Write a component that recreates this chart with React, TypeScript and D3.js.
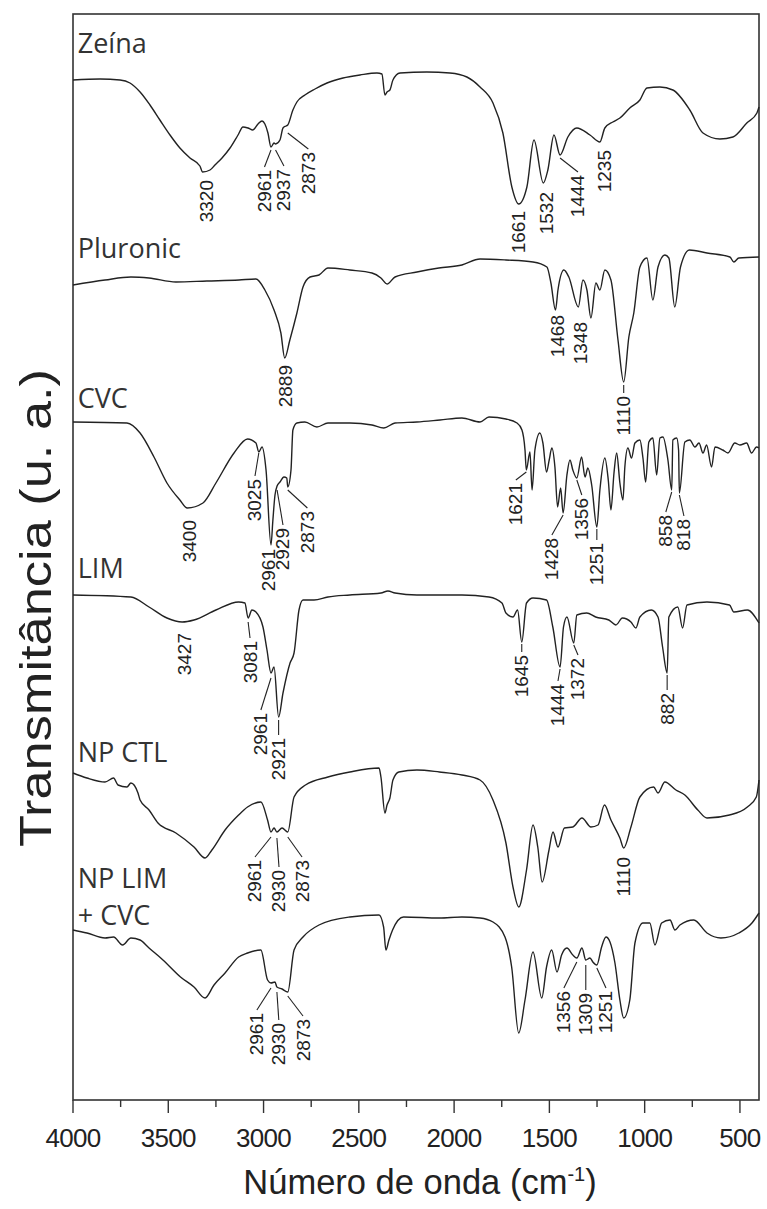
import React from "react";
import * as d3 from "d3";

// FTIR spectra (transmittance, arbitrary units, stacked) vs wavenumber
type Pt = [number, number];
type Band = { band: number; y1?: number; x2: number; y2: number };

const W = 767;
const H = 1209;
const plot = { left: 73, right: 759, top: 14, bottom: 1100 };

const majorTicks = [4000, 3500, 3000, 2500, 2000, 1500, 1000, 500];
const minorTicks = [3750, 3250, 2750, 2250, 1750, 1250, 750];
const wavenumberDomain: [number, number] = [4000, 400];
const transmittanceDomain: [number, number] = [0, 108.6];

const seriesNames = ["Zeína", "Pluronic", "CVC", "LIM", "NP CTL", "NP LIM|+ CVC"];
const seriesLabelLevels = [104.7, 84.2, 69.2, 52.2, 33.8, 21.2];

const zeina: Pt[] = [
  [4000, 102.0], [3858, 102.1], [3753, 102.0], [3701, 101.7], [3648, 100.8], [3596, 99.5],
  [3544, 98.0], [3491, 96.5], [3439, 95.2], [3386, 94.2], [3334, 93.4], [3320, 92.8],
  [3281, 93.0], [3255, 93.5], [3218, 94.2], [3176, 95.2], [3134, 96.5], [3108, 97.3],
  [3082, 97.2], [3056, 97.0], [3029, 97.6], [3008, 97.9], [2993, 97.6], [2977, 96.7],
  [2961, 95.3], [2945, 95.7], [2937, 95.6], [2914, 96.0], [2898, 97.2], [2882, 97.4],
  [2873, 97.5], [2846, 99.0], [2825, 99.8], [2783, 100.5], [2730, 101.1], [2667, 101.7],
  [2583, 102.2], [2494, 102.5], [2405, 102.7], [2379, 102.6], [2363, 100.5], [2352, 100.8],
  [2337, 101.0], [2321, 102.0], [2284, 102.7], [2143, 102.8], [2022, 102.7], [1933, 102.3],
  [1864, 101.3], [1796, 99.7], [1744, 96.7], [1697, 91.3], [1661, 89.6], [1618, 91.3],
  [1581, 96.0], [1532, 91.7], [1508, 93.0], [1476, 96.5], [1444, 94.5], [1403, 96.3],
  [1356, 97.2], [1287, 96.5], [1235, 95.8], [1209, 97.2], [1167, 97.8], [1130, 98.2],
  [1078, 99.2], [1025, 100.0], [988, 101.2], [920, 101.3], [852, 101.0], [763, 99.0],
  [694, 96.7], [605, 96.1], [537, 96.3], [464, 97.7], [411, 98.7], [400, 99.3],
];

const pluronic: Pt[] = [
  [4000, 81.5], [3832, 82.0], [3696, 82.3], [3601, 82.2], [3460, 81.8], [3297, 81.9],
  [3129, 82.0], [3040, 82.1], [2993, 81.0], [2945, 79.0], [2909, 76.7], [2889, 74.2],
  [2862, 76.0], [2825, 78.7], [2793, 81.3], [2756, 82.3], [2709, 82.5], [2662, 83.2],
  [2547, 83.0], [2431, 82.7], [2384, 82.2], [2352, 81.6], [2310, 82.3], [2195, 82.8],
  [2080, 83.2], [1959, 83.5], [1864, 84.1], [1728, 84.0], [1586, 83.8], [1513, 83.3],
  [1492, 81.7], [1468, 79.0], [1455, 81.0], [1424, 83.0], [1398, 82.3], [1348, 79.3],
  [1324, 82.0], [1303, 81.0], [1282, 78.2], [1256, 81.7], [1235, 81.0], [1209, 83.0],
  [1177, 82.0], [1140, 76.0], [1110, 71.8], [1083, 76.3], [1057, 78.7], [1025, 83.3],
  [988, 84.2], [957, 80.0], [930, 83.3], [894, 84.5], [873, 84.2], [842, 79.3],
  [812, 83.3], [765, 85.0], [673, 84.7], [553, 84.3], [532, 83.8], [506, 84.2], [400, 84.3],
];

const cvc: Pt[] = [
  [4000, 67.8], [3717, 67.7], [3648, 66.7], [3575, 64.3], [3507, 61.7], [3439, 60.0],
  [3400, 59.2], [3318, 59.7], [3250, 61.7], [3155, 64.7], [3084, 66.1], [3040, 65.7],
  [3025, 64.8], [3008, 65.3], [2987, 63.0], [2961, 55.5], [2951, 58.0], [2940, 60.5],
  [2929, 61.4], [2914, 61.8], [2893, 62.3], [2878, 62.2], [2873, 61.3], [2856, 63.0],
  [2846, 67.0], [2825, 67.7], [2783, 67.8], [2720, 67.3], [2662, 67.7], [2547, 67.7],
  [2431, 67.5], [2369, 67.2], [2310, 67.7], [2195, 67.8], [2074, 68.0], [1959, 68.2],
  [1864, 67.8], [1817, 68.3], [1728, 68.1], [1670, 67.7], [1644, 67.0], [1628, 65.0],
  [1621, 63.0], [1602, 64.8], [1591, 61.0], [1576, 65.0], [1550, 66.7], [1534, 65.7],
  [1515, 62.8], [1501, 64.0], [1487, 65.2], [1471, 63.3], [1457, 59.3], [1441, 61.2],
  [1428, 58.7], [1408, 62.5], [1392, 64.0], [1377, 63.0], [1356, 62.2], [1331, 64.3],
  [1313, 62.3], [1298, 63.2], [1278, 61.5], [1251, 57.3], [1235, 61.0], [1209, 64.2],
  [1191, 62.0], [1177, 59.0], [1161, 62.7], [1147, 64.7], [1130, 61.7], [1114, 60.0],
  [1104, 63.3], [1088, 65.2], [1069, 64.2], [1051, 65.7], [1025, 66.0], [1009, 64.2],
  [995, 61.8], [978, 65.8], [957, 66.2], [937, 62.5], [920, 66.2], [904, 66.3],
  [878, 64.0], [858, 61.0], [852, 66.0], [832, 66.2], [822, 65.0], [818, 60.7],
  [789, 65.8], [763, 66.0], [736, 65.3], [715, 65.7], [694, 64.7], [675, 65.5],
  [649, 63.3], [631, 65.3], [590, 65.0], [563, 64.7], [527, 65.7], [500, 65.5],
  [465, 65.7], [439, 64.7], [413, 65.3], [400, 65.2],
];

const lim: Pt[] = [
  [4000, 50.5], [3696, 50.3], [3601, 49.3], [3507, 48.2], [3427, 47.8], [3365, 48.0],
  [3250, 49.0], [3131, 49.8], [3098, 49.7], [3081, 48.2], [3061, 49.0], [3040, 48.8],
  [3003, 47.3], [2982, 45.0], [2961, 42.7], [2945, 43.3], [2921, 38.3], [2898, 40.7],
  [2861, 43.7], [2840, 44.7], [2814, 49.0], [2793, 50.0], [2735, 50.0], [2662, 50.3],
  [2547, 50.5], [2384, 50.7], [2347, 50.9], [2310, 50.7], [2195, 50.5], [1959, 50.5],
  [1817, 50.3], [1749, 49.7], [1728, 48.7], [1691, 48.3], [1667, 49.0], [1645, 45.8],
  [1620, 49.7], [1586, 50.2], [1515, 50.0], [1482, 47.3], [1444, 43.3], [1426, 47.3],
  [1408, 48.3], [1372, 45.7], [1356, 48.5], [1304, 48.7], [1257, 48.3], [1188, 48.0],
  [1151, 47.5], [1117, 48.2], [1072, 47.8], [1046, 47.2], [1025, 48.3], [965, 49.0],
  [930, 48.3], [906, 45.3], [882, 42.7], [873, 48.3], [826, 49.3], [801, 47.2],
  [778, 49.5], [673, 49.8], [555, 49.5], [532, 48.8], [461, 49.0], [400, 47.7],
];

const npCtl: Pt[] = [
  [4000, 32.7], [3927, 32.2], [3832, 31.8], [3787, 32.2], [3764, 31.5], [3717, 31.3],
  [3696, 31.7], [3659, 30.7], [3648, 30.0], [3601, 29.0], [3554, 27.7], [3460, 26.7],
  [3365, 25.3], [3307, 24.2], [3271, 25.0], [3202, 27.0], [3131, 28.5], [3084, 29.3],
  [3014, 29.8], [2979, 28.0], [2961, 26.8], [2945, 27.2], [2930, 26.8], [2903, 27.2],
  [2873, 26.8], [2840, 30.3], [2780, 31.5], [2662, 32.3], [2547, 32.8], [2394, 33.2],
  [2384, 32.3], [2363, 28.7], [2352, 29.5], [2337, 30.2], [2321, 32.0], [2290, 32.8],
  [2195, 33.0], [2077, 32.8], [1959, 32.5], [1864, 32.0], [1796, 30.0], [1728, 25.7],
  [1691, 21.3], [1661, 19.3], [1620, 23.0], [1586, 27.5], [1561, 25.3], [1538, 21.8],
  [1502, 25.0], [1481, 26.8], [1455, 25.3], [1421, 27.2], [1377, 27.3], [1329, 28.2],
  [1282, 27.3], [1245, 27.5], [1211, 29.5], [1177, 28.0], [1130, 26.2], [1110, 25.2],
  [1072, 27.3], [1025, 30.3], [953, 31.3], [930, 30.7], [894, 31.8], [836, 31.0],
  [789, 30.5], [721, 29.0], [673, 28.2], [555, 28.5], [461, 29.3], [414, 30.3], [400, 32.0],
];

const npLimCvc: Pt[] = [
  [4000, 17.0], [3927, 16.7], [3832, 16.2], [3787, 16.3], [3740, 15.5], [3696, 16.2],
  [3648, 16.0], [3601, 15.2], [3528, 14.0], [3436, 12.3], [3365, 11.3], [3307, 10.2],
  [3260, 11.5], [3202, 12.7], [3131, 14.3], [3084, 14.7], [3014, 15.0], [2979, 12.0],
  [2961, 11.7], [2940, 11.8], [2930, 11.3], [2903, 11.1], [2873, 10.8], [2840, 15.0],
  [2793, 16.3], [2709, 17.5], [2547, 18.3], [2394, 18.5], [2370, 17.3], [2358, 15.0],
  [2342, 16.0], [2323, 17.0], [2265, 18.3], [2077, 18.2], [1959, 18.3], [1864, 18.2],
  [1796, 17.8], [1733, 16.3], [1698, 13.3], [1661, 6.7], [1628, 10.0], [1586, 14.8],
  [1540, 10.2], [1515, 13.3], [1488, 15.0], [1460, 12.8], [1436, 14.5], [1408, 15.2],
  [1377, 14.5], [1356, 14.2], [1329, 15.2], [1309, 14.0], [1287, 14.2], [1272, 13.8],
  [1251, 13.5], [1226, 15.3], [1203, 16.3], [1182, 15.8], [1156, 13.7], [1130, 10.0],
  [1110, 8.2], [1078, 10.0], [1051, 15.7], [1009, 17.7], [973, 17.7], [946, 15.5],
  [911, 17.7], [867, 18.0], [841, 17.0], [815, 17.5], [742, 18.0], [673, 16.7],
  [600, 16.2], [506, 16.7], [437, 17.7], [400, 18.7],
];

const spectra = [zeina, pluronic, cvc, lim, npCtl, npLimCvc];

// Band assignments: leader from (band, y1) to (x2, y2); label hangs below (x2, y2)
const zeinaBands: Band[] = [
  { band: 3320, x2: 3300, y2: 92.0 },
  { band: 2961, y1: 95.0, x2: 2995, y2: 93.3 },
  { band: 2937, y1: 95.0, x2: 2893, y2: 93.4 },
  { band: 2873, y1: 96.7, x2: 2765, y2: 95.1 },
  { band: 1661, x2: 1661, y2: 88.9 },
  { band: 1532, x2: 1515, y2: 90.8 },
  { band: 1444, y1: 94.2, x2: 1350, y2: 92.8 },
  { band: 1235, x2: 1212, y2: 95.0 },
];
const pluronicBands: Band[] = [
  { band: 2889, x2: 2885, y2: 73.5 },
  { band: 1468, x2: 1455, y2: 78.5 },
  { band: 1348, x2: 1335, y2: 77.8 },
  { band: 1110, y1: 71.5, x2: 1110, y2: 70.7 },
];
const cvcBands: Band[] = [
  { band: 3400, x2: 3390, y2: 58.0 },
  { band: 3025, y1: 64.7, x2: 3045, y2: 62.4 },
  { band: 2961, x2: 2972, y2: 55.1 },
  { band: 2929, y1: 61.0, x2: 2898, y2: 57.5 },
  { band: 2873, y1: 61.0, x2: 2770, y2: 59.2 },
  { band: 1621, y1: 62.8, x2: 1676, y2: 62.0 },
  { band: 1428, y1: 58.5, x2: 1487, y2: 56.5 },
  { band: 1356, y1: 62.0, x2: 1330, y2: 60.5 },
  { band: 1251, y1: 57.1, x2: 1251, y2: 56.0 },
  { band: 858, y1: 60.8, x2: 889, y2: 58.8 },
  { band: 818, y1: 60.5, x2: 794, y2: 58.4 },
];
const limBands: Band[] = [
  { band: 3427, x2: 3413, y2: 46.7 },
  { band: 3081, y1: 47.8, x2: 3071, y2: 46.2 },
  { band: 2961, y1: 42.2, x2: 3014, y2: 39.0 },
  { band: 2921, y1: 38.0, x2: 2921, y2: 36.5 },
  { band: 1645, y1: 45.6, x2: 1645, y2: 44.8 },
  { band: 1444, y1: 43.1, x2: 1455, y2: 41.9 },
  { band: 1372, y1: 45.5, x2: 1350, y2: 44.5 },
  { band: 882, y1: 42.5, x2: 882, y2: 41.0 },
];
const npCtlBands: Band[] = [
  { band: 2961, y1: 26.3, x2: 3045, y2: 24.3 },
  { band: 2930, y1: 26.2, x2: 2919, y2: 23.3 },
  { band: 2873, y1: 26.3, x2: 2798, y2: 24.3 },
  { band: 1110, x2: 1110, y2: 24.3 },
];
const npLimCvcBands: Band[] = [
  { band: 2961, y1: 11.2, x2: 3035, y2: 9.0 },
  { band: 2930, y1: 10.8, x2: 2920, y2: 8.0 },
  { band: 2873, y1: 10.4, x2: 2793, y2: 8.4 },
  { band: 1356, y1: 13.8, x2: 1424, y2: 11.2 },
  { band: 1309, y1: 13.5, x2: 1309, y2: 11.0 },
  { band: 1251, y1: 13.2, x2: 1203, y2: 11.2 },
];

const bandSets = [zeinaBands, pluronicBands, cvcBands, limBands, npCtlBands, npLimCvcBands];

const INK = "#222";
const SANS = "'Liberation Sans', Arial, sans-serif";
const HUMANIST = "'Open Sans', 'Noto Sans', sans-serif";

export default function App() {
  const x = d3.scaleLinear().domain(wavenumberDomain).range([plot.left, plot.right]);
  const y = d3.scaleLinear().domain(transmittanceDomain).range([plot.bottom, plot.top]);
  const line = d3
    .line<Pt>()
    .x((d) => x(d[0]))
    .y((d) => y(d[1]))
    .curve(d3.curveMonotoneX);

  return (
    <svg
      width={W}
      height={H}
      viewBox={`0 0 ${W} ${H}`}
      style={{ position: "absolute", left: 0, top: 0, background: "#fff" }}
    >
      <rect x={0} y={0} width={W} height={H} fill="#fff" />

      {/* frame */}
      <rect
        x={plot.left}
        y={plot.top}
        width={plot.right - plot.left}
        height={plot.bottom - plot.top}
        fill="none"
        stroke="#333"
        strokeWidth={1.6}
      />

      {/* bottom axis ticks */}
      {majorTicks.map((t) => (
        <g key={`M${t}`}>
          <line x1={x(t)} x2={x(t)} y1={plot.bottom} y2={plot.bottom + 13} stroke="#333" strokeWidth={1.4} />
          <text
            x={x(t)}
            y={plot.bottom + 47}
            textAnchor="middle"
            fontFamily={SANS}
            fontSize={26}
            letterSpacing={-0.7}
            fill={INK}
          >
            {t}
          </text>
        </g>
      ))}
      {minorTicks.map((t) => (
        <line key={`m${t}`} x1={x(t)} x2={x(t)} y1={plot.bottom} y2={plot.bottom + 7} stroke="#333" strokeWidth={1.4} />
      ))}

      {/* axis titles */}
      <text x={420} y={1194} textAnchor="middle" fontFamily={SANS} fontSize={34.5} fill={INK}>
        Número de onda (cm
        <tspan dy={-13} fontSize={20}>-1</tspan>
        <tspan dy={13}>)</tspan>
      </text>
      <text
        transform={`translate(51, 608) rotate(-90)`}
        textAnchor="middle"
        fontFamily={SANS}
        fontSize={45}
        textLength={478}
        lengthAdjust="spacingAndGlyphs"
        fill={INK}
      >
        Transmitância (u. a.)
      </text>

      {/* spectra */}
      {spectra.map((s, i) => (
        <path key={`s${i}`} d={line(s) ?? ""} fill="none" stroke={INK} strokeWidth={1.4} strokeLinejoin="round" />
      ))}

      {/* series names */}
      {seriesNames.map((name, i) => {
        const parts = name.split("|");
        return (
          <text key={`n${i}`} x={x(3975)} y={y(seriesLabelLevels[i])} fontFamily={HUMANIST} fontSize={27} fill="#333">
            {parts.map((p, j) => (
              <tspan key={j} x={x(3975)} dy={j === 0 ? 0 : 37}>
                {p}
              </tspan>
            ))}
          </text>
        );
      })}

      {/* band labels */}
      {bandSets.map((bands, i) =>
        bands.map((b) => {
          const tx = x(b.x2);
          const ty = y(b.y2);
          return (
            <g key={`b${i}-${b.band}`}>
              {b.y1 !== undefined && (
                <line x1={x(b.band)} y1={y(b.y1)} x2={tx} y2={ty} stroke={INK} strokeWidth={1.1} />
              )}
              <text
                transform={`translate(${tx}, ${ty + (b.y1 !== undefined ? 3 : 0)}) rotate(-90)`}
                textAnchor="end"
                dominantBaseline="central"
                fontFamily={SANS}
                fontSize={19}
                fill={INK}
              >
                {b.band}
              </text>
            </g>
          );
        })
      )}
    </svg>
  );
}
